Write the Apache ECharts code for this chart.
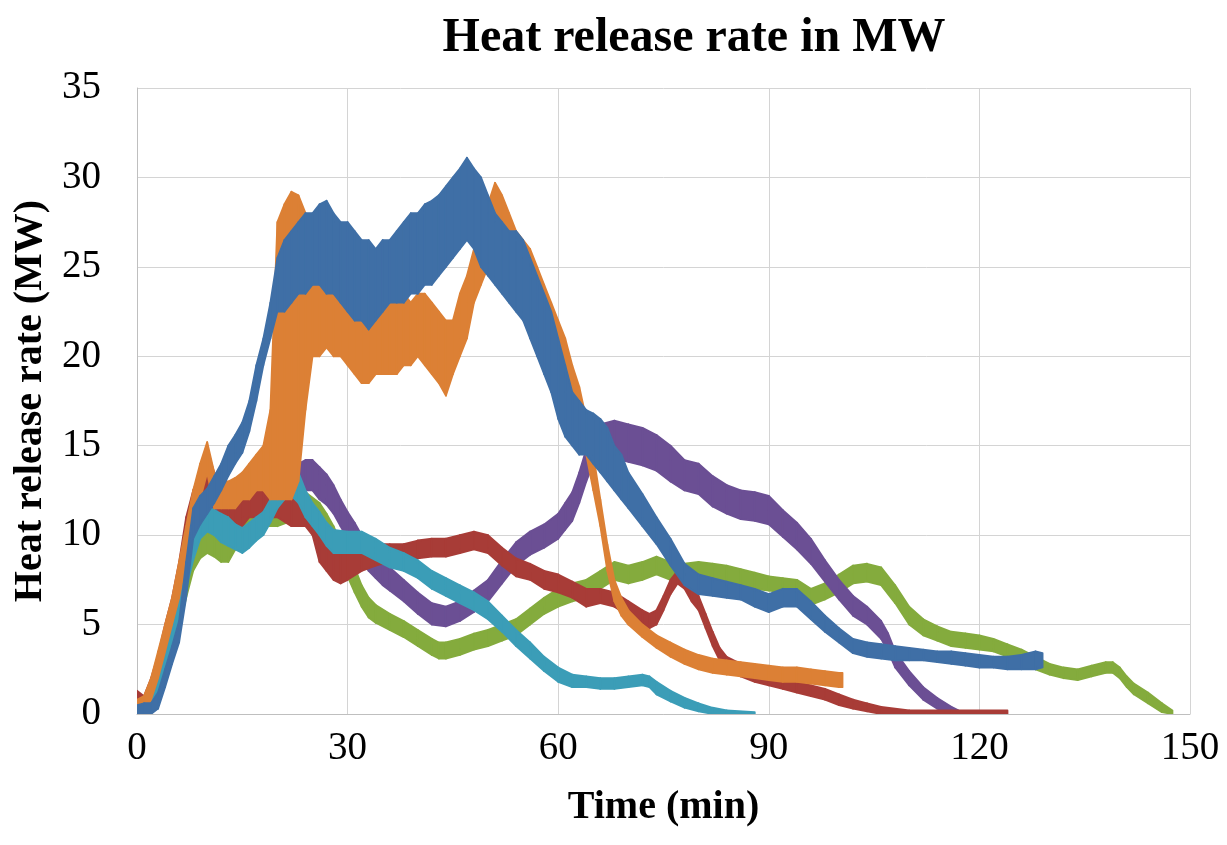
<!DOCTYPE html>
<html>
<head>
<meta charset="utf-8">
<script src="https://cdn.jsdelivr.net/npm/echarts@6/dist/echarts.min.js"></script>
<style>html,body{margin:0;padding:0;background:#fff}#chart{width:1227px;height:845px}</style>
</head>
<body>
<div id="chart"></div>
<script>
// Each series is a noisy measurement; drawn as a band between its low and high envelope (MW) vs time (min).
const xTicks = [0, 30, 60, 90, 120, 150];
const yTicks = [0, 5, 10, 15, 20, 25, 30, 35];

const redTime = [0,1,2,3,4,5,6,7,8,9,10,11,12,13,14,15,16,18,20,22,24,25,26,27,28,29,30,32,34,36,38,40,42,44,46,48,50,52,54,56,58,60,62,64,66,68,70,72,73,74,75,76,77,78,79,80,81,82,83,84,86,88,90,92,94,96,98,100,102,104,106,110,116,124];
const redLow  = [0.3,0,0.8,2,3.5,5,7,9,11,11.5,12.5,12,11,10.5,10.5,10.5,11,11,11,10.5,10.5,10,8.5,8,7.5,7.3,7.5,8,8.3,8.5,8.5,8.7,8.8,8.8,9,9.2,9,8.3,7.7,7.5,7,6.8,6.5,6,6.2,6,5.5,5,4.8,5,5.8,6.7,7.3,7,6.3,5.8,4.8,3.8,3,2.5,2.1,1.8,1.6,1.4,1.2,1,0.8,0.5,0.3,0.15,0,0,0,0];
const redHigh = [1.3,1,2,3.3,5,6.5,8.5,11,12.5,13.5,14.8,13.5,12.5,12,12,12,12.5,12.5,12.5,12.2,12,11.5,10.5,10,9.5,9,9,9.2,9.5,9.5,9.5,9.7,9.8,9.8,10,10.2,10,9.3,8.7,8.4,8,7.8,7.4,7,7,6.8,6.3,5.8,5.6,5.8,6.6,7.5,8,7.8,7,6.6,5.6,4.6,3.7,3.2,2.8,2.5,2.2,2,1.8,1.6,1.4,1.1,0.8,0.6,0.4,0.2,0.2,0.2];

const greenTime = [0,2,3,4,5,6,7,8,9,10,11,12,13,14,15,16,18,20,22,24,26,27,28,29,30,31,32,33,34,36,38,40,42,43,44,46,48,50,52,54,56,58,60,62,64,66,68,70,72,74,76,78,80,82,84,86,88,90,92,94,96,98,100,102,104,106,108,110,112,114,116,118,120,122,124,126,128,130,132,134,136,138,139,140,141,142,144,146,147.5];
const greenLow  = [0,0,0.8,2,3.2,4.8,6.5,8,8.7,9,8.8,8.5,8.5,9.2,10,10.3,10.5,10.5,10.8,10.8,10.2,9.8,9,8.2,7.7,6.8,6,5.4,5.1,4.7,4.3,3.8,3.3,3.1,3.1,3.3,3.6,3.8,4.1,4.4,5,5.6,6,6.3,6.5,7,7.5,7.3,7.5,7.8,7.5,7.4,7.5,7.5,7.4,7.2,7,6.9,6.8,6.6,6.1,6.4,6.8,7.3,7.4,7.2,6.2,5,4.4,4.1,3.8,3.7,3.6,3.5,3.2,2.9,2.5,2.2,2,1.9,2.1,2.3,2.3,2,1.5,1.1,0.6,0.1,0];
const greenHigh = [0.3,0.8,1.8,3.2,4.5,6,7.8,9.3,10,10.3,10,10,10,10.8,11.3,11.6,11.8,12,12.2,12.4,11.8,11.2,10.5,9.6,9,8.2,7.2,6.5,6.1,5.6,5.2,4.7,4.2,4,4,4.2,4.5,4.7,5,5.3,5.9,6.5,7,7.3,7.5,8,8.5,8.3,8.5,8.8,8.5,8.4,8.5,8.4,8.3,8.1,7.9,7.7,7.6,7.5,7,7.3,7.8,8.3,8.4,8.2,7.2,6,5.3,4.9,4.6,4.5,4.4,4.2,3.9,3.6,3.2,2.8,2.6,2.5,2.7,2.9,2.9,2.6,2.1,1.7,1.2,0.6,0.2];

const purpleTime = [0,1,2,3,4,5,6,7,8,9,10,12,14,16,18,20,22,24,25,26,27,28,29,30,31,32,33,34,35,36,38,40,42,44,46,48,50,52,54,56,58,60,61,62,63,64,65,66,68,70,72,74,76,78,80,82,84,86,88,90,92,94,96,98,100,102,104,106,107,108,110,112,114,116,117];
const purpleLow  = [0,0,0.5,1.5,2.8,4.2,5.8,7.8,9.5,10.2,10.5,10.8,11,11.2,11.5,11.8,12.3,12.5,12.5,12,11.7,11.2,10.5,9.8,9.2,8.6,8,7.6,7.2,6.9,6.3,5.6,5,4.9,5.2,5.7,6.3,7.3,8.3,8.9,9.3,9.8,10.3,10.8,11.8,13,14,14.4,14.3,14.1,13.9,13.6,13,12.5,12.3,11.6,11.2,10.9,10.8,10.6,9.9,9.2,8.4,7.4,6.4,5.5,5,4.2,3.5,2.6,1.6,0.8,0.3,0,0];
const purpleHigh = [0.4,0.6,1.5,2.7,4,5.5,7.2,9.3,11,11.8,12,12.3,12.5,12.8,13,13.3,13.8,14.2,14.2,13.8,13.4,12.8,12,11.3,10.7,10,9.4,8.9,8.5,8.2,7.5,6.8,6.2,6,6.3,6.9,7.5,8.6,9.6,10.2,10.6,11.2,11.8,12.4,13.5,14.8,15.8,16.2,16.4,16.2,16,15.6,15,14.2,14,13.3,12.8,12.5,12.4,12.2,11.4,10.7,9.8,8.6,7.5,6.6,6,5.2,4.5,3.5,2.4,1.5,0.9,0.4,0.2];

const cyanTime = [0,1,2,3,4,5,6,7,8,9,10,11,12,13,14,15,16,17,18,19,20,21,22,23,24,25,26,27,28,30,32,34,36,38,40,42,44,46,48,50,52,54,56,58,60,62,64,66,68,70,72,73,74,76,78,80,82,84,88];
const cyanLow  = [0,0,0.3,1.3,2.5,3.8,5.3,7,8.6,9.8,10.2,10,9.6,9.4,9.2,9,9.3,9.7,10,10.7,11.5,12,12.2,11.8,11,10.5,10,9.4,9,9,9,8.6,8.2,8,7.6,7,6.6,6.2,5.8,5.3,4.6,3.8,3.1,2.4,1.8,1.5,1.5,1.4,1.4,1.5,1.6,1.5,1.1,0.7,0.35,0.15,0,0,0];
const cyanHigh = [0.4,0.5,1.2,2.5,3.7,5,6.6,8.4,10,11.2,11.6,11.4,11.2,11,10.6,10.4,10.7,11,11.3,12,13,13.6,13.8,13.5,12.5,11.8,11.3,10.7,10.3,10.2,10.2,9.8,9.3,9,8.6,8,7.6,7.2,6.8,6.3,5.5,4.7,4,3.2,2.6,2.2,2.1,2,2,2.1,2.2,2.1,1.8,1.3,0.9,0.6,0.35,0.2,0.1];

const orangeTime = [0,1,2,3,4,5,6,7,8,9,10,11,12,13,14,15,16,17,18,19,20,21,22,23,24,25,26,27,28,29,30,31,32,33,34,35,36,37,38,39,40,41,42,43,44,45,46,47,48,49,50,51,52,53,54,55,56,57,58,59,60,61,62,63,64,65,66,67,68,69,70,72,74,76,78,80,82,84,86,88,90,92,94,96,98,100,100.5];
const orangeLow  = [0,0,0.8,2,3.5,5,6.5,8.5,10.5,12,13.5,11.5,11.5,11.5,11.5,12,12,12.5,12.5,12,12,12,12,13,17,20,20,20.5,20,20,19.5,19,18.5,18.5,19,19,19,19,19.5,19.5,20,19.5,19,18.5,17.8,19,20,21,23,24,25,26,25.5,25,24,23.5,23,22.5,21.5,20.5,19.5,18.5,17.5,16.5,14.5,12.5,10.5,8,6.3,5.5,5,4.3,3.7,3.2,2.8,2.5,2.3,2.2,2.1,2,1.9,1.8,1.8,1.7,1.6,1.5,1.5];
const orangeHigh = [0.8,1,2,3.5,5,6.5,8.5,10.5,12.5,14,15.2,13.5,13,13,13.2,13.5,14,14.5,15,17,27.5,28.5,29.2,29,28,25,24.5,24.5,24,23.5,23,23,22.5,22.5,22.5,23,23.5,24,23.5,23,23.5,23.5,23,22.5,22,22,23.5,24.5,26,27.5,28.5,29.7,29,28,27,26.5,26,25,24,23,22,21,19.5,18.3,16.5,14.5,12,9.5,7.5,6.5,5.8,5,4.4,4,3.6,3.3,3.1,3,2.9,2.8,2.7,2.6,2.6,2.5,2.4,2.3,2.3];

const blueTime = [0,1,2,3,4,5,6,7,8,9,10,11,12,13,14,15,16,17,18,19,20,21,22,23,24,25,26,27,28,29,30,31,32,33,34,35,36,37,38,39,40,41,42,43,44,45,46,47,48,49,50,51,52,53,54,55,56,57,58,59,60,61,62,63,64,65,66,67,68,69,70,72,74,76,78,80,82,84,86,88,90,92,94,96,98,100,102,104,106,108,110,112,114,116,118,120,122,124,126,128,129];
const blueLow  = [0,0,0,0.3,1.5,2.8,4,6.5,9.8,10.6,11.2,11.8,12.5,13.3,14,14.6,15.8,17.5,19.5,21,22.5,22.5,23,23.5,23.5,24,24,23.5,23.5,23,22.5,22,22,21.5,22,22.5,23,23,23,23.5,23.5,24,24,24.5,25,25.5,26,26.5,26,25,24.5,24,23.5,23,22.5,22,21,20,19,18,16.5,15.5,15,14.5,14.5,14,13.5,13,12.5,12,11.5,10.5,9.5,8.3,7.2,6.7,6.6,6.5,6.4,6,5.7,6,6,5.3,4.6,4,3.4,3.2,3.1,3,3,3,2.9,2.8,2.7,2.6,2.6,2.5,2.5,2.5,2.6];
const blueHigh = [0.5,0.6,0.6,1.2,2.5,3.8,5.2,8.5,11.5,12.2,12.6,13.3,14,15,15.6,16.3,17.5,19.5,21,23,25.5,26.5,27,27.5,28,28,28.5,28.7,28,27.5,27.5,27,26.5,26.5,26,26.5,26.5,27,27.5,28,28,28.5,28.7,29,29.5,30,30.5,31.1,30.5,30,29,28,27.5,27,27,26.5,25.5,24.5,23.5,22.5,21,19.5,18,17.5,17,16.8,16.5,16,15,14.5,13.5,12.3,11,9.8,8.4,7.8,7.6,7.4,7.2,7,6.7,7,7,6.3,5.5,4.8,4.2,4,3.9,3.8,3.7,3.6,3.5,3.5,3.4,3.3,3.2,3.2,3.3,3.5,3.4];

const FONT = 'Liberation Serif';

function bandSeries(name, color, times, lows, highs) {
  const n = Math.min(times.length, lows.length, highs.length);
  const data = [];
  for (let i = 0; i < n; i++) data.push([times[i], lows[i], highs[i]]);
  return {
    name: name,
    type: 'custom',
    clip: true,
    silent: true,
    encode: { x: 0, y: [1, 2] },
    data: data,
    renderItem: function (params, api) {
      const i = params.dataIndexInside;
      if (i >= params.dataInsideLength - 1) return null;
      const t0 = api.value(0, i), t1 = api.value(0, i + 1);
      const a = api.coord([t0, api.value(2, i)]);
      const b = api.coord([t1, api.value(2, i + 1)]);
      const c = api.coord([t1, api.value(1, i + 1)]);
      const d = api.coord([t0, api.value(1, i)]);
      return {
        type: 'polygon',
        shape: { points: [a, b, c, d] },
        style: { fill: color, stroke: color, lineWidth: 1.8, lineJoin: 'round' }
      };
    }
  };
}

const chart = echarts.init(document.getElementById('chart'), null, { renderer: 'canvas' });
chart.setOption({
  animation: false,
  backgroundColor: '#ffffff',
  title: {
    text: 'Heat release rate in MW',
    left: 689,
    top: 10,
    textAlign: 'center',
    textStyle: { fontFamily: FONT, fontWeight: 'bold', fontSize: 48, color: '#000' }
  },
  grid: { left: 137, right: 37, top: 88, bottom: 131, containLabel: false },
  xAxis: {
    type: 'value',
    min: xTicks[0], max: xTicks[xTicks.length - 1], interval: 30,
    name: 'Time (min)', nameLocation: 'middle', nameGap: 74,
    nameTextStyle: { fontFamily: FONT, fontWeight: 'bold', fontSize: 40, color: '#000' },
    axisLine: { show: true, lineStyle: { color: '#bfbfbf', width: 1 } },
    axisTick: { show: false },
    splitLine: { show: true, lineStyle: { color: '#d4d4d4', width: 1 } },
    axisLabel: { fontFamily: FONT, fontSize: 39, color: '#000', margin: 15 }
  },
  yAxis: {
    type: 'value',
    min: yTicks[0], max: yTicks[yTicks.length - 1], interval: 5,
    name: 'Heat release rate (MW)', nameLocation: 'middle', nameGap: 76,
    nameTextStyle: { fontFamily: FONT, fontWeight: 'bold', fontSize: 40, color: '#000' },
    axisLine: { show: true, lineStyle: { color: '#bfbfbf', width: 1 } },
    axisTick: { show: false },
    splitLine: { show: true, lineStyle: { color: '#d4d4d4', width: 1 } },
    axisLabel: { fontFamily: FONT, fontSize: 39, color: '#000', margin: 36 }
  },
  series: [
    bandSeries('Green', '#84ab3d', greenTime, greenLow, greenHigh),
    bandSeries('Purple', '#6b4f94', purpleTime, purpleLow, purpleHigh),
    bandSeries('Red', '#a83c37', redTime, redLow, redHigh),
    bandSeries('Cyan', '#3b9db7', cyanTime, cyanLow, cyanHigh),
    bandSeries('Orange', '#dc8035', orangeTime, orangeLow, orangeHigh),
    bandSeries('Blue', '#3f6fa6', blueTime, blueLow, blueHigh)
  ]
});
</script>
</body>
</html>
